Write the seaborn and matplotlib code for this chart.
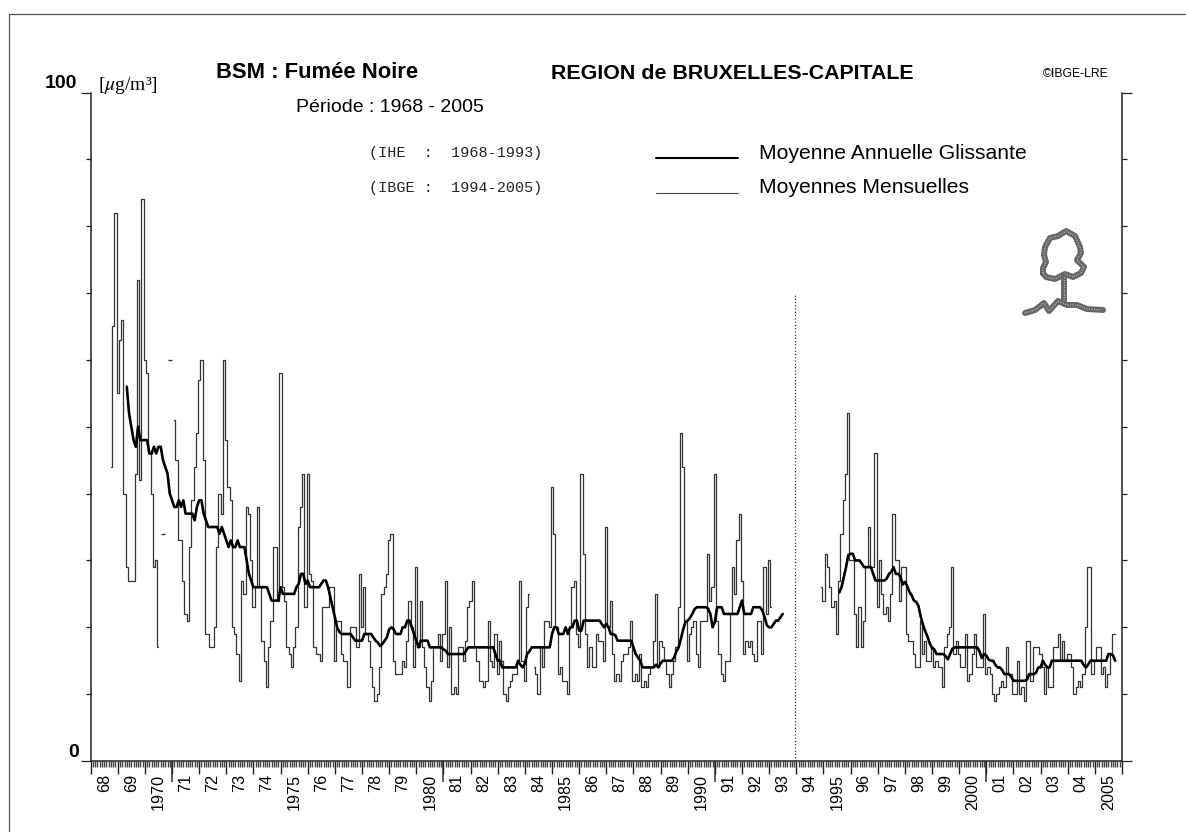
import numpy as np
import pandas as pd
import seaborn as sns
import matplotlib.pyplot as plt
from matplotlib.lines import Line2D

nan = np.nan
# mois comptes depuis janvier 1968
debut_mens_a = 9
mens_a = [44, 65, 82, 55, 63, 66, 40, 29, 27, 27, 27, 43, 72, 42, 84, 60, 58, 46, 40, 29, 30, 17,
          nan, 34, nan, nan, 60, nan,
          51, 45, 33, 33, 27, 22, 21, 32, 39, 44, 49, 57, 60, 45, 19, 19, 17, 17, 20, 32, 40, 37,
          60, 48, 41, 39, 20, 19, 16, 12, 27, 25, 38, 37, 30, 23, 26, 38, 26, 18, 15, 11, 17, 21,
          32, 32, 24, 58, 26, 24, 17, 16, 14, 17, 20, 35, 38, 43, 23, 43, 28, 27, 17, 16,
          16, 15, 23, 23, 23, 26, 26, 15, 21, 21, 16, 15, 15, 11, 20, 20, 20, 17, 28, 20, 26, 19,
          18, 14, 11, 9, 10, 14, 25, 26, 28, 33, 34, 15, 13, 13, 13, 15, 14, 18, 24, 20, 14, 29,
          17, 24, 17, 14, 11, 9, 12, 17, 17, 19, 15, 19, 27, 14, 20, 10, 11, 10, 17, 17, 15, 18,
          23, 24, 27, 17, 15, 12, 12, 11, 12, 21, 15, 14, 19, 13, 18, 15, 10, 9, 11, 12, 13, 13,
          15, 27, 15, 12, 23, 25,
          nan, 14, 13, 10, 17, 14, 21, 21, 20, 41, 34, 20, 13, 14, 12, 12, 10, 20, 26, 27, 19, 17,
          43, 31, 19, 14, 17, 14, 14, 19, 18, 18, 15, 35, 20, 24, 16, 12, 13, 12, 15, 16, 16, 17,
          21, 12, 13, 12, 16, 11, 12, 11, 13, 14, 18, 25, 14, 18, 17, 15, 13, 11, 13, 15, 17, 23,
          49, 44, 21, 15, 19, 20, 21, 16, 14, 21, 21, 21, 31, 24, 26, 43, 21, 16, 13, 12, 15, 15,
          22, 29, 25, 33, 37, 27, 16, 18, 17, 18, 16, 15, 21, 21, 16, 29, 22, 30, 23]

debut_mens_b = 323
mens_b = [26, 24, 31, 29, 26, 23, 24, 19, 27, 34, 39, 43, 52, 30, 30, 22, 17, 23, 17, 21,
          29, 35, 29, 29, 46, 23, 30, 25, 22, 23, 21, 25, 37, 30, 30, 24, 29, 29, 19, 18,
          18, 16, 14, 14, 21, 16, 18, 15, 15, 17, 14, 15, 14, 14, 11, 17, 19, 20, 29, 16,
          18, 16, 14, 14, 19, 12, 13, 16, 19, 14, 14, 14, 22, 13, 14, 13, 10, 9, 10, 11,
          12, 11, 17, 13, 13, 10, 10, 15, 10, 11, 9, 18, 18, 12, 17, 17, 17, 16, 14, 10,
          14, 11, 11, 17, 17, 19, 15, 18, 15, 16, 16, 14, 10, 11, 12, 11, 13, 20, 29, 29,
          13, 15, 17, 17, 13, 14, 11, 13, 16, 19, 19]

debut_moy_a = 16
moy_a = [56, 52, 50, 48, 47, 50, 48, 48, 48, 48, 46, 46, 47, 46, 47, 47, 45, 44, 43, 40,
         39, 38, 38, 39, 38, 39, 37, 37, 37, 37, 36, 38, 39, 39, 37, 36, 35, 35, 35, 35,
         35, 34, 35, 34, 33, 32, 33, 32, 32, 33, 32, 32, 32, 30, 28, 27, 26, 26, 26, 26,
         26, 26, 26, 25, 24, 24, 24, 24, 26, 25, 25, 25, 25, 25, 25, 26, 26.5, 28, 28, 26.5,
         27, 26, 26, 26, 26,
         26, 26.5, 27, 27, 26, 24.5, 23, 21.5, 20, 19.3,
         19, 19, 19, 19, 19, 18.5, 18, 18, 18, 18, 19, 19, 19, 19, 18.5, 18, 17.7, 17.2, 17.5, 18,
         18.5, 19.7, 20, 19.7, 19, 19, 19, 20, 20, 21, 21, 20, 19, 18, 17, 18, 18, 18, 18, 17,
         17, 17, 17, 17, 17, 16.7, 16.5, 16, 16, 16, 16, 16, 16, 16, 16, 16.5, 17, 17, 17, 17,
         17, 17, 17, 17, 17, 17, 17, 17, 16, 15, 15, 14, 14, 14, 14, 14, 14, 14, 15, 14.4,
         14, 14.6, 16, 16.4, 17, 17, 17, 17, 17, 17, 17, 17, 17, 19, 20, 20, 19, 19, 19, 20,
         19, 20, 20, 21, 21, 19.5, 19.5, 21, 21, 21, 21, 21, 21, 21, 21, 20.5, 20, 20.5, 20, 19,
         19, 18.8, 18, 18, 18, 18, 18, 18, 18, 17, 16, 15.5, 15, 14, 14, 14, 14, 14, 14, 14.4,
         14, 14.6, 15, 15, 15, 15, 15, 15.5, 16.4, 17, 18.3, 19.7, 20.8, 21, 21.4, 22, 22.7, 23, 23, 23,
         23, 23, 22.8, 22, 20, 20.8, 23, 23, 23, 22, 22, 22, 22, 22, 22, 22, 23, 24, 22, 22,
         22, 22, 23, 23, 23, 23, 22.5, 21.5, 20.3, 20, 20, 20.5, 21, 21, 21.5, 22]

debut_moy_b = 331
moy_b = [25.2, 26, 27.5, 29, 30.8, 31, 31, 30, 30, 30, 29.5, 29, 29, 29, 29, 28, 27, 27, 27, 27,
         27, 27.3, 28, 28.3, 29, 28, 28, 27.6, 26.4, 26.8, 26.2, 25.3, 24.8, 24, 23.8, 23.2, 21.6, 20.4, 19.4, 18.6,
         17.6, 16.9, 16.7, 16, 16, 16, 16, 15.7, 15.2, 16, 16.8, 17, 17, 17, 17, 17, 17, 17, 17, 17,
         17, 17, 16.4, 15.4, 16, 15.8, 15.2, 15, 15, 14.4, 14, 14, 13.6, 13, 13, 13, 12.6, 12, 12, 12,
         12, 12, 12, 12.2, 13, 13, 13, 13.2, 14, 14, 15, 14.4, 14, 14, 15, 15, 15, 15, 15, 15,
         15, 15, 15, 15, 15, 15, 15, 15, 14.4, 14, 14.4, 15, 15, 15, 15, 15, 15, 15, 15, 16,
         16, 15.8, 15]

etiquettes_annees = ['68', '69', '1970', '71', '72', '73', '74', '1975', '76', '77', '78', '79', '1980',
                     '81', '82', '83', '84', '1985', '86', '87', '88', '89', '1990', '91', '92', '93',
                     '94', '1995', '96', '97', '98', '99', '2000', '01', '02', '03', '04', '2005']

W, H = 1186, 832


def serie(valeurs, debut):
    df = pd.DataFrame({'mois': np.arange(len(valeurs)) + debut, 'valeur': valeurs})
    df['troncon'] = df['valeur'].isna().cumsum()
    return df.dropna()


def px(x, y):
    return x / W, 1 - y / H


sns.set_style('white')
plt.rcParams['font.family'] = ['Liberation Sans', 'DejaVu Sans']
plt.rcParams['text.color'] = 'black'
plt.rcParams['xtick.labelcolor'] = 'black'
plt.rcParams['mathtext.fontset'] = 'stix'

fig = plt.figure(figsize=(W / 100, H / 100), dpi=100, facecolor='white')
ax = fig.add_axes([90.6 / W, 1 - 761 / H, (1122 - 90.6) / W, (761 - 92.5) / H])

mens = pd.concat([serie(mens_a, debut_mens_a), serie(mens_b, debut_mens_b)], keys=['a', 'b'], names=['bloc'])
mens = mens.reset_index(level='bloc')
mens['groupe'] = mens['bloc'] + mens['troncon'].astype(str)
tailles = mens.groupby('groupe')['valeur'].transform('size')
sns.lineplot(data=mens[tailles > 1], x='mois', y='valeur', units='groupe', estimator=None,
             drawstyle='steps-mid', color='#333333', linewidth=0.9, ax=ax, legend=False)
# mois isoles entre deux lacunes
sns.scatterplot(data=mens[tailles == 1], x='mois', y='valeur', marker='_', s=12, color='#333333',
                linewidth=1, ax=ax, legend=False)

for valeurs, debut in [(moy_a, debut_moy_a), (moy_b, debut_moy_b)]:
    sns.lineplot(x=np.arange(len(valeurs)) + debut, y=valeurs, color='black', linewidth=1.9,
                 ax=ax, legend=False)

ax.plot([311.3, 311.3], [0, 70], color='#333333', linewidth=0.9, linestyle=(0, (1, 1.6)))

ax.set_xlim(0, 454.4)
ax.set_ylim(0, 100)
ax.set_xlabel('')
ax.set_ylabel('')
ax.spines['top'].set_visible(False)
for s in ['left', 'right', 'bottom']:
    ax.spines[s].set_linewidth(1.1)
    ax.spines[s].set_color('#222222')

ax.set_yticks(np.arange(10, 100, 10))
ax.set_yticklabels([])
ax.tick_params(axis='y', which='major', left=True, right=True, length=3.6, width=0.9, color='#222222')

# traits plus longs a 0 et 100
for cote in ['left', 'right']:
    extremes = ax.secondary_yaxis(cote)
    extremes.set_yticks([0, 100], [])
    extremes.tick_params(axis='y', length=7.5, width=0.9, color='#222222')
    extremes.spines[cote].set_visible(False)

annees = np.arange(0, 39) * 12
ax.set_xticks(annees)
ax.set_xticklabels([])
ax.set_xticks(np.arange(0, 456), minor=True)
ax.tick_params(axis='x', which='major', bottom=True, length=9.4, width=1, color='#222222')
ax.tick_params(axis='x', which='minor', bottom=True, length=4.3, width=1.0, color='#444444')

lab = ax.secondary_xaxis('bottom')
lab.set_xticks(annees[:-1] + 6, etiquettes_annees)
lab.tick_params(axis='x', length=0, pad=9.4, labelsize=11.6, labelrotation=90)
lab.spines['bottom'].set_visible(False)

decennies = ax.secondary_xaxis('bottom')
decennies.set_xticks([36, 156, 276, 396], [])
decennies.tick_params(axis='x', length=15, width=1.1, color='#333333')
decennies.spines['bottom'].set_visible(False)

# textes de l'entete
fig.text(*px(45, 88), '100', fontsize=14, fontweight='bold')
fig.text(*px(68, 757), '0', fontsize=14, fontweight='bold')
fig.text(*px(98, 90), '[$\\mu$g/m³]', family=['Liberation Serif', 'DejaVu Serif'], fontsize=14)
fig.text(*px(216, 78.5), 'BSM : Fumée Noire', fontsize=15.8, fontweight='bold')
fig.text(*px(551, 79), 'REGION de BRUXELLES-CAPITALE', fontsize=15.4, fontweight='bold')
fig.text(*px(1043, 77), '©IBGE-LRE', fontsize=8.8)
fig.text(*px(296, 112), 'Période : 1968 - 2005', fontsize=14)
fig.text(*px(369, 157.5), '(IHE  :  1968-1993)', family='Liberation Mono', fontsize=10.9, color='#222222')
fig.text(*px(369, 192), '(IBGE :  1994-2005)', family='Liberation Mono', fontsize=10.9, color='#222222')
fig.text(*px(759, 159), 'Moyenne Annuelle Glissante', fontsize=15.2)
fig.text(*px(759, 193), 'Moyennes Mensuelles', fontsize=15.2)


def trait(xs, ys, **kw):
    pts = [px(x, y) for x, y in zip(xs, ys)]
    ligne = Line2D([p[0] for p in pts], [p[1] for p in pts], transform=fig.transFigure, **kw)
    fig.add_artist(ligne)


trait([656, 738], [158, 158], color='black', linewidth=1.5)
trait([656, 738], [192.5, 192.5], color='#444444', linewidth=0.8)

# cadre du scan
trait([9, 1186], [14, 14], color='#555555', linewidth=0.9)
trait([9, 9], [14, 832], color='#555555', linewidth=0.9)

# arbre du logo, trame grise
couronne_x = [1043, 1043, 1046, 1044, 1045, 1050, 1058, 1066, 1075, 1080, 1081, 1077, 1084, 1081, 1073, 1065, 1055, 1046, 1043]
couronne_y = [273, 268, 262, 255, 247, 238, 236, 231, 236, 247, 253, 260, 267, 273, 277, 274, 279, 277, 273]
tronc_x = [1064, 1064]
tronc_y = [277, 300]
sol_x = [1025, 1035, 1044, 1049, 1058, 1067, 1077, 1087, 1103]
sol_y = [313, 310, 303, 311, 301, 305, 305, 309, 310]
for xs, ys in [(couronne_x, couronne_y), (tronc_x, tronc_y), (sol_x, sol_y)]:
    trait(xs, ys, color='#666666', linewidth=4.3, solid_joinstyle='round', solid_capstyle='round')
    trait(xs, ys, color='#dddddd', linewidth=0.9, linestyle=(0, (0.6, 1.4)))

fig.savefig('out.png', dpi=100)
plt.close()
